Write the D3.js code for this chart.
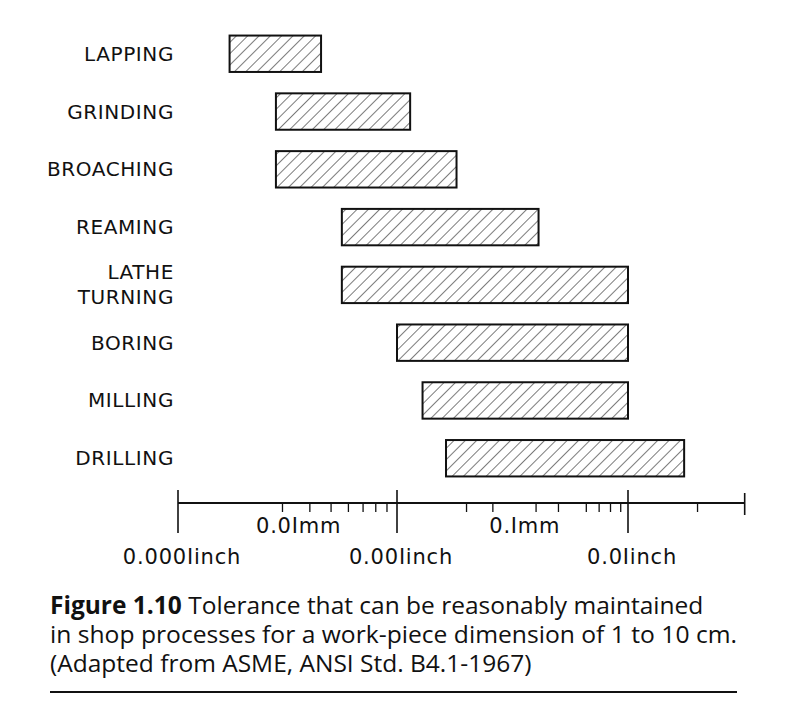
<!DOCTYPE html>
<html>
<head>
<meta charset="UTF-8">
<script src="https://d3js.org/d3.v7.min.js"></script>
<style>
  body { margin: 0; background: #fff; }
  .lbl { font-family: "DejaVu Sans", sans-serif; font-size: 20px; fill: #111; letter-spacing: 0.6px; }
  .ax { font-family: "DejaVu Sans", sans-serif; font-size: 21px; fill: #111; letter-spacing: 0.8px; }
  .cap { font-family: "Open Sans", "Noto Sans", sans-serif; font-size: 24.5px; fill: #111; }
</style>
</head>
<body>
<svg id="chart" width="811" height="716"></svg>
<script>
// process names (two-line label for lathe turning)
const processes = ["LAPPING", "GRINDING", "BROACHING", "REAMING", "LATHE\nTURNING", "BORING", "MILLING", "DRILLING"];
// tolerance range in inches (low, high)
const lowInch  = [1.72e-4, 2.8e-4, 2.8e-4, 5.6e-4, 5.6e-4, 1.0e-3, 1.29e-3, 1.63e-3];
const highInch = [4.5e-4, 1.14e-3, 1.81e-3, 4.1e-3, 1.0e-2, 1.0e-2, 1.0e-2, 1.75e-2];
const inchTicks = [1e-4, 1e-3, 1e-2];
const inchLabels = ["0.000Iinch", "0.00Iinch", "0.0Iinch"];
const mmLabels = [{t: "0.0Imm", at: 3.95e-4}, {t: "0.Imm", at: 3.95e-3}];
const minorTicks = [3e-4, 4e-4, 5e-4, 6e-4, 7e-4, 8e-4, 9e-4, 2e-3, 2.6e-3, 4e-3, 5e-3, 6.6e-3, 7.5e-3, 8.4e-3, 9.3e-3, 2e-2];
const axisEnd = 3.2e-2;

const svg = d3.select("#chart");
// log scale, decades drawn a little uneven as in the print
const xl = d3.scaleLinear().domain([-4, -3, -2]).range([178, 397, 628]);
const x = v => xl(Math.log10(v));
const y = d3.scaleBand().domain(processes).range([24, 488]).paddingInner(0.37).paddingOuter(0.2);

// hatch pattern
const pat = svg.append("defs").append("pattern")
  .attr("id", "hatch").attr("patternUnits", "userSpaceOnUse")
  .attr("width", 8).attr("height", 8).attr("patternTransform", "rotate(45)");
pat.append("line").attr("x1", 0).attr("y1", 0).attr("x2", 0).attr("y2", 8)
  .attr("stroke", "#222").attr("stroke-width", 1.2);

// bars
svg.selectAll("rect.bar").data(processes).enter().append("rect")
  .attr("x", (d, i) => x(lowInch[i]))
  .attr("width", (d, i) => x(highInch[i]) - x(lowInch[i]))
  .attr("y", d => y(d)).attr("height", y.bandwidth())
  .attr("fill", "url(#hatch)").attr("stroke", "#111").attr("stroke-width", 2);

// labels
processes.forEach(p => {
  const lines = p.split("\n");
  const cy = y(p) + y.bandwidth() / 2;
  lines.forEach((l, j) => {
    svg.append("text").attr("class", "lbl").attr("text-anchor", "end")
      .attr("x", 174).attr("y", cy + 7 + (j - (lines.length - 1) / 2) * 25)
      .text(l);
  });
});

// axis
const ay = 503;
svg.append("line").attr("x1", x(1e-4)).attr("x2", x(axisEnd)).attr("y1", ay).attr("y2", ay)
  .attr("stroke", "#111").attr("stroke-width", 2);
svg.selectAll("line.maj").data(inchTicks).enter().append("line")
  .attr("x1", d => x(d)).attr("x2", d => x(d)).attr("y1", ay - 13).attr("y2", ay + 30)
  .attr("stroke", "#111").attr("stroke-width", 1.6);
svg.append("line").attr("x1", x(axisEnd)).attr("x2", x(axisEnd)).attr("y1", ay - 10).attr("y2", ay + 12)
  .attr("stroke", "#111").attr("stroke-width", 1.6);
svg.selectAll("line.min").data(minorTicks).enter().append("line")
  .attr("x1", d => x(d)).attr("x2", d => x(d)).attr("y1", ay).attr("y2", ay + 9)
  .attr("stroke", "#111").attr("stroke-width", 1.3);
svg.selectAll("text.in").data(inchTicks).enter().append("text").attr("class", "ax")
  .attr("text-anchor", "middle").attr("x", d => x(d) + 4).attr("y", 564)
  .text((d, i) => inchLabels[i]);
svg.selectAll("text.mm").data(mmLabels).enter().append("text").attr("class", "ax")
  .attr("text-anchor", "middle").attr("x", d => x(d.at) - 10).attr("y", 533)
  .text(d => d.t);

// caption
const cap = svg.append("text").attr("class", "cap").attr("x", 50).attr("y", 614);
cap.append("tspan").attr("font-weight", "bold").text("Figure 1.10");
cap.append("tspan").text(" Tolerance that can be reasonably maintained");
svg.append("text").attr("class", "cap").attr("x", 50).attr("y", 643)
  .attr("textLength", 687).attr("lengthAdjust", "spacingAndGlyphs")
  .text("in shop processes for a work-piece dimension of 1 to 10 cm.");
svg.append("text").attr("class", "cap").attr("x", 50).attr("y", 672)
  .text("(Adapted from ASME, ANSI Std. B4.1-1967)");
svg.append("line").attr("x1", 50).attr("x2", 737).attr("y1", 692).attr("y2", 692)
  .attr("stroke", "#111").attr("stroke-width", 2);
</script>
</body>
</html>
